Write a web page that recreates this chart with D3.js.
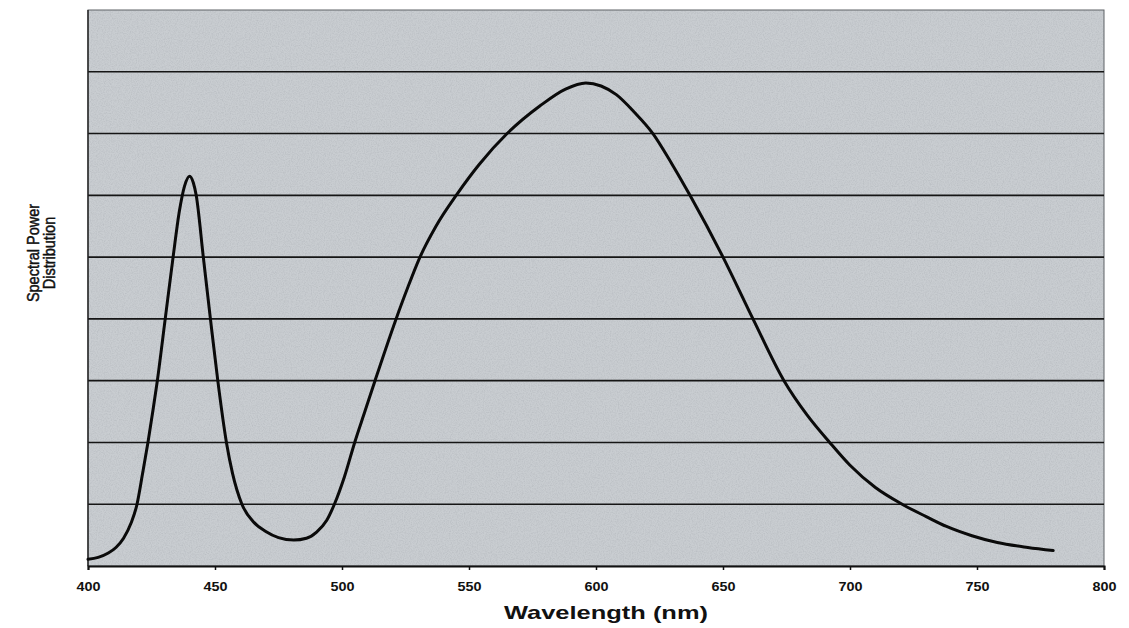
<!DOCTYPE html>
<html>
<head>
<meta charset="utf-8">
<script src="https://cdn.jsdelivr.net/npm/d3@7"></script>
<style>
  body { margin: 0; background: #fff; }
  .chart text { font-family: Arial, "Liberation Sans", sans-serif; fill: #111; }
</style>
</head>
<body>
<div class="chart"></div>
<script>
var margin = {top: 10, right: 25, bottom: 62, left: 88};
var width = 1129 - margin.left - margin.right;
var height = 628 - margin.top - margin.bottom;

// wavelength (nm) and relative power (in grid-line units)
let wavelengths = [400, 404, 408, 411, 414, 417, 419.3, 421.5, 423.6, 425.5, 427.3, 430.4,
  433.5, 436, 438, 440, 441.5, 442.6, 445.4, 448.2, 451.1, 454.5, 456.9, 460.6, 465, 470,
  475, 481, 486, 490, 494, 497, 501, 505, 509, 513, 521.3, 526, 530.7, 537, 545.3, 554,
  565, 578, 588, 596, 602, 608, 615, 622.4, 630, 637, 650, 661.8, 674, 683, 692, 700,
  710, 720.5, 730, 738, 748, 758, 770, 780];
let power = [0.11, 0.14, 0.21, 0.30, 0.45, 0.70, 1.0, 1.5, 2.0, 2.5, 3.0, 4.0,
  5.0, 5.75, 6.15, 6.31, 6.2, 6.0, 5.0, 4.0, 3.0, 2.0, 1.5, 1.0, 0.72, 0.56,
  0.46, 0.42, 0.45, 0.55, 0.74, 1.0, 1.45, 2.0, 2.5, 3.0, 4.0, 4.52, 5.0, 5.5, 6.02, 6.5,
  7.0, 7.45, 7.72, 7.82, 7.77, 7.63, 7.35, 7.0, 6.5, 6.0, 5.0, 4.0, 3.0, 2.45, 2.0, 1.63,
  1.27, 1.0, 0.8, 0.64, 0.49, 0.38, 0.3, 0.25];

let xTicks = [400, 450, 500, 550, 600, 650, 700, 750, 800];
let gridValues = [1, 2, 3, 4, 5, 6, 7, 8];

let data = wavelengths.map((w, i) => ({nm: w, value: power[i]}));

let root = d3.select('.chart')
  .append('svg')
  .attr('width', width + margin.left + margin.right)
  .attr('height', height + margin.top + margin.bottom)
;

// grain of the scanned background
let filter = root.append('defs')
  .append('filter')
  .attr('id', 'grain')
  .attr('x', 0).attr('y', 0).attr('width', '100%').attr('height', '100%')
;
filter.append('feTurbulence')
  .attr('type', 'fractalNoise')
  .attr('baseFrequency', 0.85)
  .attr('numOctaves', 2)
  .attr('seed', 3)
;
filter.append('feColorMatrix')
  .attr('type', 'matrix')
  .attr('values', '0 0 0 0 0.25  0 0 0 0 0.27  0 0 0 0 0.3  1.2 0 0 0 -0.45')
;

let svg = root.append('g')
  .attr('transform', `translate(${margin.left}, ${margin.top})`)
;

let xScale = d3.scaleLinear()
  .domain([400, 800])
  .range([0, width])
;

let yScale = d3.scaleLinear()
  .domain([0, 9])
  .range([height, 0])
;

// plot background
svg.append('rect')
  .attr('width', width)
  .attr('height', height)
  .style('fill', '#c9cdd1')
;
svg.append('rect')
  .attr('width', width)
  .attr('height', height)
  .attr('filter', 'url(#grain)')
  .style('opacity', 0.35)
;
svg.append('rect')
  .attr('width', width)
  .attr('height', height)
  .style('fill', 'none')
  .style('stroke', '#5f6266')
  .style('stroke-width', 1)
;

// horizontal grid lines
svg.selectAll('.grid')
  .data(gridValues)
  .enter()
  .append('line')
  .attr('class', 'grid')
  .attr('x1', 0)
  .attr('x2', width)
  .attr('y1', d => yScale(d))
  .attr('y2', d => yScale(d))
  .style('stroke', '#151515')
  .style('stroke-width', 1.6)
;

// left axis line, no ticks
svg.append('line')
  .attr('x1', 0).attr('x2', 0)
  .attr('y1', 0).attr('y2', height)
  .style('stroke', '#222')
  .style('stroke-width', 1.4)
;

let xAxis = d3.axisBottom(xScale)
  .tickValues(xTicks)
  .tickSize(4)
  .tickPadding(12)
;

let xAxisG = svg.append('g')
  .attr('transform', `translate(0, ${height})`)
  .call(xAxis)
;
xAxisG.select('.domain').style('stroke', '#111').style('stroke-width', 2);
xAxisG.selectAll('.tick line').style('stroke', '#111').style('stroke-width', 1.5);
xAxisG.selectAll('.tick text')
  .attr('textLength', 24)
  .attr('lengthAdjust', 'spacingAndGlyphs')
  .style('font-family', 'Arial, "Liberation Sans", sans-serif')
  .style('font-size', '13px')
  .style('font-weight', 'bold')
  .style('fill', '#111')
;

// spectrum curve
let line = d3.line()
  .x(d => xScale(d.nm))
  .y(d => yScale(d.value))
  .curve(d3.curveMonotoneX)
;

svg.append('path')
  .datum(data)
  .attr('d', line)
  .style('fill', 'none')
  .style('stroke', '#0a0a0a')
  .style('stroke-width', 3)
  .style('stroke-linejoin', 'round')
  .style('stroke-linecap', 'round')
;

// axis titles
svg.append('text')
  .attr('x', 518)
  .attr('y', height + 53)
  .attr('textLength', 204)
  .attr('lengthAdjust', 'spacingAndGlyphs')
  .style('text-anchor', 'middle')
  .style('font-size', '18.5px')
  .style('font-weight', 'bold')
  .text('Wavelength (nm)')
;

let yTitle = svg.append('text')
  .attr('transform', `translate(${39 - margin.left}, 243) scale(1.2, 1) rotate(-90)`)
  .style('text-anchor', 'middle')
  .style('font-size', '14.5px')
  .style('font-weight', 'normal')
  .style('stroke', '#111')
  .style('stroke-width', 0.4)
;
yTitle.append('tspan').attr('x', 0).attr('dy', 0).text('Spectral Power');
yTitle.append('tspan').attr('x', 0).attr('dy', 13.5).text('Distribution');
</script>
</body>
</html>
